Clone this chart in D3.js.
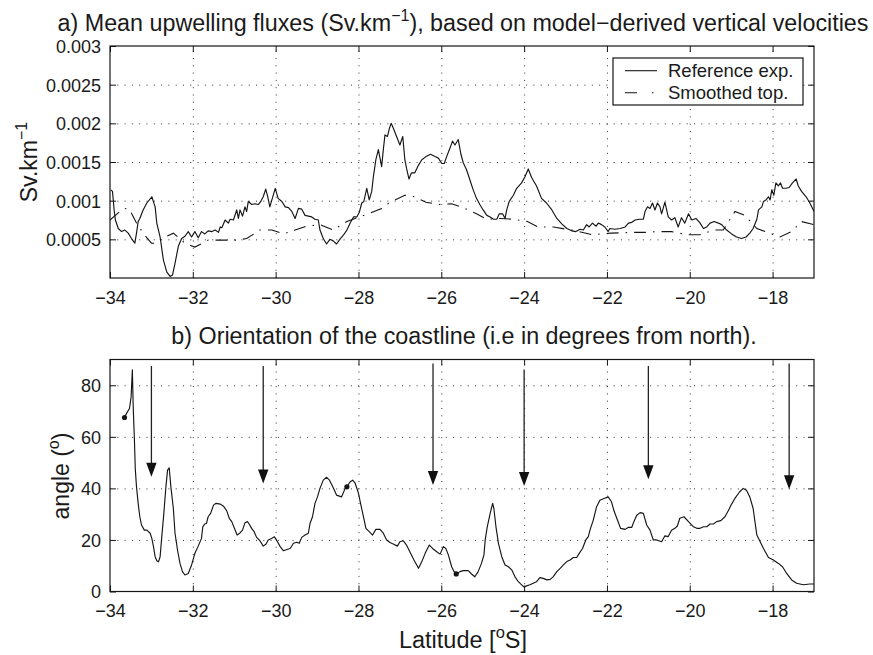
<!DOCTYPE html>
<html><head><meta charset="utf-8">
<script src="https://cdn.jsdelivr.net/npm/d3@7"></script>
<style>
body{margin:0;background:#fff}
svg{display:block}
text{font-family:"Liberation Sans",Arial,Helvetica,sans-serif;fill:#1a1a1a}
</style>
</head><body>
<svg id="c" width="873" height="655"></svg>
<script>
// ---------------- DATA ----------------
const xTicks = [-34,-32,-30,-28,-26,-24,-22,-20,-18];
const xTickLabels = ["\u221234","\u221232","\u221230","\u221228","\u221226","\u221224","\u221222","\u221220","\u221218"];
const yTopTicks = [0.0005,0.001,0.0015,0.002,0.0025,0.003];
const yTopTickLabels = ["0.0005","0.001","0.0015","0.002","0.0025","0.003"];
const yBotTicks = [0,20,40,60,80];
const yBotTickLabels = ["0","20","40","60","80"];
const legendLabels = ["Reference exp.","Smoothed top."];

// Panel a: reference experiment (Sv.km-1)
const refLat = [-33.98,-33.94,-33.90,-33.87,-33.80,-33.72,-33.64,-33.56,-33.48,-33.40,-33.36,-33.32,-33.28,-33.20,-33.11,-32.99,-32.91,-32.87,-32.79,-32.71,-32.63,-32.55,-32.49,-32.43,-32.35,-32.27,-32.19,-32.11,-32.03,-31.95,-31.87,-31.79,-31.71,-31.63,-31.54,-31.46,-31.38,-31.34,-31.30,-31.22,-31.14,-31.10,-31.02,-30.94,-30.90,-30.86,-30.80,-30.74,-30.70,-30.66,-30.58,-30.50,-30.42,-30.36,-30.30,-30.24,-30.19,-30.14,-30.07,-30.01,-29.94,-29.85,-29.77,-29.69,-29.61,-29.53,-29.45,-29.37,-29.29,-29.21,-29.13,-29.05,-28.97,-28.93,-28.85,-28.77,-28.69,-28.61,-28.53,-28.45,-28.37,-28.28,-28.20,-28.12,-28.04,-27.98,-27.92,-27.87,-27.80,-27.74,-27.68,-27.64,-27.58,-27.52,-27.44,-27.40,-27.36,-27.30,-27.25,-27.21,-27.16,-27.08,-27.00,-26.93,-26.88,-26.84,-26.78,-26.72,-26.64,-26.55,-26.47,-26.37,-26.26,-26.15,-26.07,-25.99,-25.93,-25.87,-25.79,-25.73,-25.67,-25.59,-25.53,-25.47,-25.39,-25.31,-25.23,-25.15,-25.07,-24.99,-24.90,-24.82,-24.74,-24.66,-24.60,-24.52,-24.46,-24.42,-24.36,-24.26,-24.18,-24.06,-23.98,-23.90,-23.82,-23.70,-23.58,-23.46,-23.33,-23.21,-23.09,-22.97,-22.85,-22.75,-22.65,-22.57,-22.49,-22.43,-22.35,-22.26,-22.21,-22.13,-22.05,-21.97,-21.93,-21.81,-21.68,-21.56,-21.48,-21.40,-21.32,-21.22,-21.12,-21.08,-21.02,-20.96,-20.90,-20.84,-20.78,-20.72,-20.68,-20.60,-20.52,-20.44,-20.36,-20.28,-20.20,-20.12,-20.03,-19.95,-19.85,-19.75,-19.67,-19.59,-19.51,-19.41,-19.31,-19.23,-19.11,-18.99,-18.87,-18.75,-18.64,-18.55,-18.47,-18.38,-18.34,-18.26,-18.22,-18.16,-18.10,-18.06,-18.02,-17.97,-17.92,-17.86,-17.81,-17.76,-17.68,-17.60,-17.52,-17.43,-17.38,-17.30,-17.19,-17.10,-17.00];
const refVal = [0.00114,0.00112,0.00088,0.00075,0.00064,0.00060,0.00062,0.00058,0.00051,0.00045,0.00058,0.00073,0.00077,0.00088,0.00097,0.00105,0.00092,0.00071,0.00053,0.00023,0.00008,0.00002,0.00004,0.00019,0.00041,0.00051,0.00054,0.00060,0.00053,0.00060,0.00052,0.00060,0.00057,0.00061,0.00060,0.00062,0.00059,0.00066,0.00065,0.00075,0.00071,0.00076,0.00075,0.00088,0.00077,0.00088,0.00080,0.00092,0.00086,0.00099,0.00095,0.00096,0.00095,0.00099,0.00105,0.00115,0.00105,0.00092,0.00105,0.00116,0.00103,0.00099,0.00092,0.00091,0.00086,0.00077,0.00090,0.00089,0.00081,0.00080,0.00079,0.00076,0.00075,0.00062,0.00051,0.00044,0.00050,0.00048,0.00044,0.00050,0.00055,0.00062,0.00071,0.00079,0.00079,0.00085,0.00097,0.00099,0.00116,0.00101,0.00112,0.00131,0.00153,0.00166,0.00144,0.00166,0.00185,0.00183,0.00194,0.00200,0.00194,0.00183,0.00172,0.00183,0.00153,0.00142,0.00128,0.00136,0.00136,0.00146,0.00153,0.00157,0.00160,0.00157,0.00155,0.00148,0.00148,0.00157,0.00168,0.00177,0.00172,0.00179,0.00161,0.00149,0.00140,0.00127,0.00114,0.00103,0.00095,0.00088,0.00081,0.00079,0.00076,0.00076,0.00083,0.00083,0.00077,0.00088,0.00099,0.00107,0.00116,0.00123,0.00131,0.00141,0.00130,0.00119,0.00103,0.00097,0.00088,0.00077,0.00070,0.00064,0.00061,0.00060,0.00063,0.00062,0.00069,0.00066,0.00071,0.00067,0.00071,0.00069,0.00066,0.00060,0.00064,0.00063,0.00064,0.00066,0.00071,0.00072,0.00075,0.00076,0.00076,0.00086,0.00092,0.00090,0.00097,0.00088,0.00097,0.00092,0.00083,0.00098,0.00079,0.00075,0.00078,0.00066,0.00078,0.00071,0.00083,0.00075,0.00077,0.00071,0.00064,0.00066,0.00071,0.00073,0.00071,0.00069,0.00062,0.00057,0.00053,0.00051,0.00053,0.00058,0.00064,0.00076,0.00088,0.00092,0.00099,0.00101,0.00105,0.00101,0.00114,0.00107,0.00123,0.00119,0.00123,0.00116,0.00116,0.00117,0.00123,0.00128,0.00119,0.00112,0.00105,0.00097,0.00086];

// Panel a: smoothed topography (Sv.km-1)
const smoothLat = [-34.0,-33.76,-33.65,-33.53,-33.36,-33.2,-33.0,-32.88,-32.75,-32.47,-32.19,-31.95,-31.63,-31.38,-30.94,-30.70,-30.38,-30.09,-29.81,-29.53,-29.25,-28.93,-28.61,-28.28,-28.08,-27.76,-27.44,-27.24,-26.88,-26.64,-26.37,-26.07,-25.75,-25.47,-25.15,-24.90,-24.58,-24.28,-23.92,-23.66,-23.29,-22.97,-22.67,-22.37,-21.9,-21.40,-21.08,-20.80,-20.44,-20.07,-19.75,-19.43,-19.19,-18.91,-18.67,-18.38,-18.18,-17.82,-17.54,-17.30,-17.0];
const smoothVal = [0.00075,0.00086,0.00090,0.00089,0.00071,0.00058,0.00045,0.00045,0.00051,0.00058,0.00045,0.00040,0.00049,0.00049,0.00049,0.00051,0.00062,0.00062,0.00057,0.00062,0.00067,0.00069,0.00062,0.00073,0.00077,0.00083,0.00090,0.00098,0.00107,0.00105,0.00098,0.00095,0.00096,0.00091,0.00083,0.00076,0.00077,0.00076,0.00073,0.00066,0.00066,0.00063,0.00060,0.00056,0.00058,0.00059,0.00059,0.00060,0.00060,0.00056,0.00056,0.00062,0.00062,0.00086,0.00081,0.00064,0.00060,0.00053,0.00060,0.00073,0.00069];

// Panel b: coastline orientation (degrees from north)
const angLat = [-33.65,-33.60,-33.53,-33.49,-33.46,-33.44,-33.41,-33.39,-33.36,-33.32,-33.28,-33.24,-33.17,-33.11,-33.03,-32.99,-32.95,-32.91,-32.87,-32.83,-32.79,-32.75,-32.70,-32.65,-32.61,-32.57,-32.53,-32.47,-32.43,-32.37,-32.31,-32.25,-32.19,-32.11,-32.03,-31.95,-31.87,-31.79,-31.76,-31.71,-31.67,-31.63,-31.57,-31.50,-31.44,-31.34,-31.26,-31.18,-31.12,-31.06,-31.01,-30.93,-30.86,-30.80,-30.74,-30.68,-30.64,-30.58,-30.52,-30.46,-30.38,-30.30,-30.23,-30.18,-30.10,-30.03,-29.98,-29.89,-29.81,-29.73,-29.65,-29.57,-29.49,-29.43,-29.37,-29.29,-29.21,-29.17,-29.11,-29.05,-28.99,-28.93,-28.85,-28.77,-28.70,-28.62,-28.53,-28.41,-28.32,-28.28,-28.20,-28.14,-28.08,-28.00,-27.95,-27.88,-27.82,-27.74,-27.66,-27.58,-27.48,-27.40,-27.32,-27.24,-27.16,-27.06,-27.00,-26.92,-26.84,-26.76,-26.66,-26.55,-26.47,-26.39,-26.29,-26.21,-26.11,-26.03,-25.95,-25.89,-25.83,-25.75,-25.69,-25.63,-25.55,-25.47,-25.35,-25.27,-25.19,-25.11,-25.03,-24.97,-24.94,-24.89,-24.82,-24.76,-24.73,-24.68,-24.62,-24.54,-24.46,-24.38,-24.30,-24.22,-24.14,-24.06,-24.00,-23.94,-23.86,-23.78,-23.70,-23.62,-23.54,-23.45,-23.37,-23.30,-23.21,-23.13,-23.05,-22.97,-22.89,-22.81,-22.73,-22.67,-22.59,-22.51,-22.45,-22.41,-22.33,-22.25,-22.17,-22.07,-21.97,-21.89,-21.83,-21.76,-21.67,-21.56,-21.48,-21.40,-21.35,-21.28,-21.20,-21.12,-21.04,-20.96,-20.88,-20.80,-20.68,-20.60,-20.52,-20.44,-20.36,-20.30,-20.24,-20.14,-20.03,-19.91,-19.83,-19.75,-19.67,-19.59,-19.51,-19.43,-19.35,-19.25,-19.15,-19.07,-18.99,-18.91,-18.80,-18.71,-18.63,-18.55,-18.47,-18.38,-18.30,-18.22,-18.10,-17.98,-17.86,-17.76,-17.66,-17.54,-17.42,-17.26,-17.10,-17.00];
const angVal = [67.5,69.1,71.0,75.5,86.0,72.0,58.7,47.7,40.6,34.2,29.0,25.8,23.8,23.8,22.6,20.6,17.4,13.5,11.9,11.5,13.5,21.2,30.3,40.6,47.1,48.0,40.6,32.2,22.6,16.1,10.9,7.7,6.4,7.0,10.3,14.8,17.6,20.6,25.1,26.2,26.4,29.0,30.3,33.5,34.2,33.9,33.1,31.3,28.4,27.1,25.1,21.9,22.7,23.8,26.7,27.1,26.2,24.5,23.2,21.0,19.7,17.6,18.4,20.0,20.6,21.2,20.0,17.4,15.8,16.3,16.7,18.7,19.1,18.7,21.0,21.9,22.6,26.4,29.0,34.2,36.7,40.0,43.2,44.3,43.2,40.6,37.4,36.7,40.0,40.6,42.6,43.2,42.0,38.1,34.2,29.0,24.5,23.2,21.9,24.1,24.1,22.6,20.0,19.0,18.4,17.6,19.3,19.7,18.0,15.4,12.2,9.0,11.6,14.8,18.0,16.7,15.4,14.5,17.4,16.7,14.2,9.6,7.7,6.8,7.7,8.1,8.1,6.8,5.7,7.7,10.9,14.2,20.0,25.1,30.3,34.2,32.2,25.1,18.7,13.5,10.3,9.6,8.4,5.7,3.8,2.6,1.7,2.2,2.6,3.2,3.8,5.4,5.1,4.5,4.7,5.7,7.7,9.0,10.3,11.6,12.2,13.2,13.2,14.8,16.7,20.0,21.3,23.8,27.7,32.9,35.4,36.1,36.7,34.8,31.3,28.3,24.5,24.1,24.9,24.9,27.1,29.6,30.6,30.3,25.8,23.8,20.0,20.0,19.3,21.6,21.3,23.8,24.5,25.4,28.4,29.0,27.1,25.1,24.5,24.5,25.1,25.1,26.2,26.2,27.1,27.5,29.0,31.3,33.9,36.1,38.6,40.0,39.3,36.7,32.2,21.9,19.3,16.7,13.2,12.2,10.9,9.6,7.0,4.5,3.2,2.6,2.9,2.9];

// Panel b: marked points and arrows
const dotLat = [-33.65,-28.28,-25.64];
const dotVal = [67.5,40.6,6.8];
const arrowLat = [-33.0,-30.3,-26.2,-24.0,-21.0,-17.6];
const arrowFrom = [87.5,87.5,88.4,86.1,87.5,88.4];
const arrowTo = [44.5,41.9,41.3,40.9,43.5,39.7];

// ---------------- CHART ----------------
const svg = d3.select("#c");
const FONT = '"Liberation Sans",Arial,Helvetica,sans-serif';
const x = d3.scaleLinear().domain([-34,-17]).range([110,814]);
const yA = d3.scaleLinear().domain([0,0.003]).range([278,46]);
const yB = d3.scaleLinear().domain([0,90]).range([591.5,359.5]);
const INK = "#151515";
const TICKFS = "18px";

function drawAxes(y, yTicks, yTickLabels) {
  const [x0,x1] = x.range();
  const [y0,y1] = y.range();
  const g = svg.append("g").attr("color", INK);
  // dotted grid
  const gx = g.append("g").attr("transform",`translate(0,${y0})`)
    .call(d3.axisBottom(x).tickValues(xTicks.filter(v=>v>-34 && v<-17)).tickSize(-(y0-y1)).tickFormat(""));
  gx.select(".domain").remove();
  gx.selectAll("line").attr("stroke","#333").attr("stroke-dasharray","1,6.3");
  const gy = g.append("g").attr("transform",`translate(${x0},0)`)
    .call(d3.axisLeft(y).tickValues(yTicks.filter(v=>v>y.domain()[0] && v<y.domain()[1])).tickSize(-(x1-x0)).tickFormat(""));
  gy.select(".domain").remove();
  gy.selectAll("line").attr("stroke","#333").attr("stroke-dasharray","1,6.3");
  // bottom axis with labels
  const bx = g.append("g").attr("transform",`translate(0,${y0})`)
    .call(d3.axisBottom(x).tickValues(xTicks).tickFormat((d,i)=>xTickLabels[i]).tickSizeInner(-6).tickSizeOuter(0));
  bx.select(".domain").remove();
  bx.selectAll("text").attr("y",25.5).attr("dy",null)
    .style("font-family",FONT).style("font-size",TICKFS).attr("fill",INK);
  // top axis (ticks only)
  const tx = g.append("g").attr("transform",`translate(0,${y1})`)
    .call(d3.axisTop(x).tickValues(xTicks).tickFormat("").tickSizeInner(-6).tickSizeOuter(0));
  tx.select(".domain").remove();
  // left axis with labels
  const ly = g.append("g").attr("transform",`translate(${x0},0)`)
    .call(d3.axisLeft(y).tickValues(yTicks).tickFormat((d,i)=>yTickLabels[i]).tickSizeInner(-6).tickSizeOuter(0));
  ly.select(".domain").remove();
  ly.selectAll("text").attr("x",-9).attr("dy","0.36em")
    .style("font-family",FONT).style("font-size",TICKFS).attr("fill",INK);
  // right axis (ticks only)
  const ry = g.append("g").attr("transform",`translate(${x1},0)`)
    .call(d3.axisRight(y).tickValues(yTicks).tickFormat("").tickSizeInner(-6).tickSizeOuter(0));
  ry.select(".domain").remove();
  // frame
  g.append("rect").attr("x",x0).attr("y",y1).attr("width",x1-x0).attr("height",y0-y1)
    .attr("fill","none").attr("stroke",INK).attr("stroke-width",1.2);
}

drawAxes(yA, yTopTicks, yTopTickLabels);
drawAxes(yB, yBotTicks, yBotTickLabels);

// clip paths
const defs = svg.append("defs");
defs.append("clipPath").attr("id","clipA").append("rect")
  .attr("x",110).attr("y",46).attr("width",704).attr("height",232);
defs.append("clipPath").attr("id","clipB").append("rect")
  .attr("x",110).attr("y",359.5).attr("width",704).attr("height",232);

const lineA = d3.line().x(d=>x(d[0])).y(d=>yA(d[1]));
const lineB = d3.line().x(d=>x(d[0])).y(d=>yB(d[1]));

const gA = svg.append("g").attr("clip-path","url(#clipA)");
gA.append("path").datum(d3.zip(smoothLat, smoothVal)).attr("d",lineA)
  .attr("fill","none").attr("stroke",INK).attr("stroke-width",1.1)
  .attr("stroke-dasharray","12,7,1.5,7");
gA.append("path").datum(d3.zip(refLat, refVal)).attr("d",lineA)
  .attr("fill","none").attr("stroke",INK).attr("stroke-width",1.15).attr("stroke-linejoin","round");

const gB = svg.append("g").attr("clip-path","url(#clipB)");
gB.append("path").datum(d3.zip(angLat, angVal)).attr("d",lineB)
  .attr("fill","none").attr("stroke",INK).attr("stroke-width",1.15).attr("stroke-linejoin","round");
gB.selectAll("circle.dot").data(d3.zip(dotLat, dotVal)).join("circle")
  .attr("class","dot").attr("cx",d=>x(d[0])).attr("cy",d=>yB(d[1])).attr("r",2.6).attr("fill",INK);

// arrows
const headL = 14, headW = 5.2;
const arrows = d3.zip(arrowLat, arrowFrom, arrowTo);
const ga = svg.append("g");
ga.selectAll("line").data(arrows).join("line")
  .attr("x1",d=>x(d[0])).attr("x2",d=>x(d[0]))
  .attr("y1",d=>yB(d[1])).attr("y2",d=>yB(d[2])-headL+1)
  .attr("stroke","#222").attr("stroke-width",1.3);
ga.selectAll("path").data(arrows).join("path")
  .attr("d",d=>{const cx=x(d[0]), ty=yB(d[2]); return `M${cx-headW},${ty-headL}L${cx+headW},${ty-headL}L${cx},${ty}Z`;})
  .attr("fill","#111");

// legend
const lg = svg.append("g");
lg.append("rect").attr("x",613).attr("y",58).attr("width",190).attr("height",47)
  .attr("fill","#fff").attr("stroke",INK).attr("stroke-width",1.2);
lg.append("line").attr("x1",625).attr("x2",657).attr("y1",70.7).attr("y2",70.7)
  .attr("stroke",INK).attr("stroke-width",1.1);
lg.append("line").attr("x1",625).attr("x2",657).attr("y1",92.7).attr("y2",92.7)
  .attr("stroke",INK).attr("stroke-width",1.1).attr("stroke-dasharray","12,15,1.5,10");
lg.selectAll("text").data(legendLabels).join("text")
  .attr("x",668).attr("y",(d,i)=>77+i*21.5)
  .style("font-size","18.5px").text(d=>d);

// titles
function supText(sel, parts, supSize, shift) {
  parts.forEach(p=>{
    if (p.sup) {
      sel.append("tspan").attr("dy",-shift).style("font-size",supSize+"px").text(p.sup);
    } else {
      sel.append("tspan").attr("dy",p.back?shift:0).text(p.t);
    }
  });
}
const tA = svg.append("text").attr("x",463).attr("y",30.5).attr("text-anchor","middle").style("font-size","23.3px");
supText(tA,[{t:"a) Mean upwelling fluxes (Sv.km"},{sup:"\u22121"},{t:"), based on model\u2212derived vertical velocities",back:true}],16,10);

svg.append("text").attr("x",464).attr("y",344).attr("text-anchor","middle").style("font-size","23.3px")
  .text("b) Orientation of the coastline (i.e in degrees from north).");

// axis labels
const yl1 = svg.append("text").attr("transform","translate(37,162) rotate(-90)").attr("text-anchor","middle").style("font-size","23px");
supText(yl1,[{t:"Sv.km"},{sup:"\u22121"},{t:"",back:true}],16,10);

const yl2 = svg.append("text").attr("transform","translate(69,476) rotate(-90)").attr("text-anchor","middle").style("font-size","23px");
supText(yl2,[{t:"angle ("},{sup:"o"},{t:")",back:true}],16,10);

const xl = svg.append("text").attr("x",463).attr("y",648).attr("text-anchor","middle").style("font-size","23.5px");
supText(xl,[{t:"Latitude ["},{sup:"o"},{t:"S]",back:true}],16.5,10);
</script>
</body></html>
